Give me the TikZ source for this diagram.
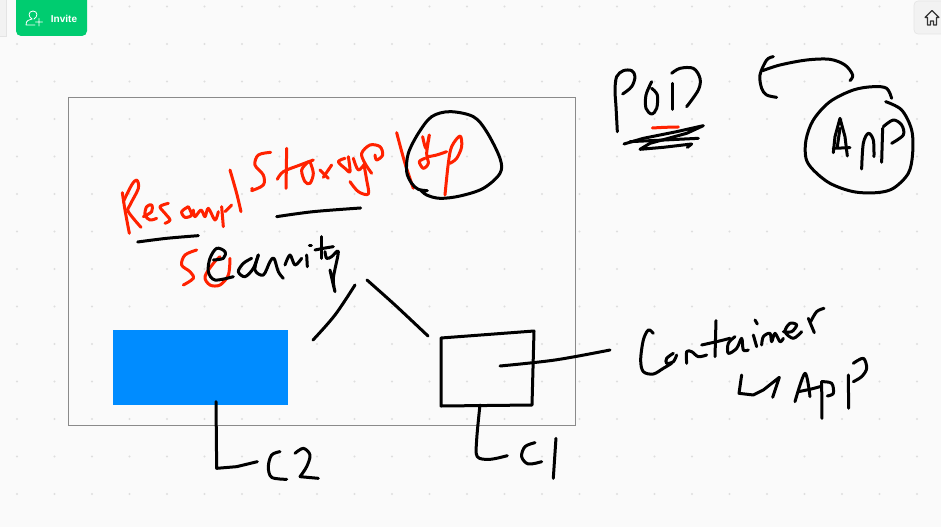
\documentclass[tikz,border=0pt]{standalone}
\usepackage{fontspec}
\setmainfont{Liberation Sans}
\definecolor{pagebg}{HTML}{FAFAFA}
\definecolor{griddot}{HTML}{DEDEDE}
\definecolor{framegray}{HTML}{8A8A8A}
\definecolor{boxblue}{HTML}{008CFF}
\definecolor{inkred}{HTML}{FF2200}
\definecolor{invitegreen}{HTML}{00CC70}
\definecolor{btngray}{HTML}{F2F2F2}
\definecolor{btnedge}{HTML}{E4E4E4}
\tikzset{
  ink/.style={line width=3pt,line cap=round,line join=round,black},
  redink/.style={ink,inkred},
  zoomed/.style={x=.3333pt,y=-.3333pt}
}
\newcommand{\ink}[2][ink]{\draw[#1] plot[smooth,tension=.55] coordinates {#2};}
\begin{document}
\begin{tikzpicture}[x=1pt,y=-1pt]
\useasboundingbox (0,0) rectangle (941,527);
\fill[pagebg] (0,0) rectangle (941,527);
% grid dots
\foreach \i in {0,...,24}{\foreach \j in {0,...,13}{
  \fill[griddot] ({17+37.5*\i},{6.5+37.5*\j}) circle (1.1);
}}
% toolbar
\draw[fill=btngray,draw=btnedge,line width=.6pt] (-6,-6) rectangle (6,36);
\fill[invitegreen,rounded corners=5pt] (16,-8) rectangle (87,36);
\node[text=white,font=\bfseries\fontsize{10}{11}\selectfont,inner sep=0pt] (invite) at (64,18.5) {Invite};
\draw[white,line width=.8pt,line cap=round] (26,25) .. controls (26,20) and (29,20) .. (32,19) .. controls (28,17) and (28,11) .. (33,11) .. controls (38,11) and (38,17) .. (34,19) (26,25) -- (35,25) (39,18.5) -- (39,26) (35.5,22) -- (42.5,22);
\draw[fill=btngray,draw=btnedge,line width=.6pt,rounded corners=4pt] (914,1) rectangle (950,34);
\draw[black!80,line width=1.1pt,line join=round] (925,17.5) -- (932,10.5) -- (939,17.5) -- (936.5,17.5) -- (936.5,25) -- (933.5,25) -- (933.5,21) -- (930.5,21) -- (930.5,25) -- (927.5,25) -- (927.5,17.5) -- cycle;
% frame and blue box
\draw[framegray,line width=1pt] (68,97) rectangle (575,425);
\fill[boxblue] (113,330) rectangle (288,405);

% Resour
\begin{scope}[shift={(115,170)},zoomed]
  \ink[redink]{(22,68)(30,120)(43,190)}
  \ink[redink]{(25,95)(50,45)(65,30)(70,55)(45,105)(40,125)(78,172)}
  \ink[redink]{(85,140)(110,125)(110,105)(95,110)(90,135)(105,150)(125,145)}
  \ink[redink]{(160,100)(135,110)(150,130)(165,150)(150,160)}
  \ink[redink]{(220,110)(200,125)(210,142)(230,135)(220,110)}
  \ink[redink]{(235,120)(240,140)(258,120)(270,140)(280,115)(300,150)(310,125)}
  \ink[redink]{(320,110)(325,170)}
  \ink[redink]{(330,125)(350,105)}
  \ink[redink]{(345,0)(365,70)(378,125)}
  \ink[redink]{(412,55)(410,58)}
\end{scope}
% S of Storage
\begin{scope}[shift={(100,110)},zoomed]
  \ink[redink]{(512,127)(475,135)(465,165)(490,195)(490,225)(455,242)}
  \ink{(113,396)(200,385)(295,377)}
  \ink{(530,320)(640,305)(782,294)}
\end{scope}
% torage, slash, IP and its circle
\begin{scope}[shift={(270,120)},zoomed]
  \ink[redink]{(50,85)(48,205)}
  \ink[redink]{(22,178)(40,155)(90,135)(130,120)}
  \ink[redink]{(115,125)(95,150)(105,185)(120,190)(130,160)(120,125)}
  \ink[redink]{(150,150)(175,175)}
  \ink[redink]{(160,172)(185,135)}
  \ink[redink]{(225,115)(205,125)(225,145)(240,155)(235,110)}
  \ink[redink]{(250,115)(265,150)(285,130)}
  \ink[redink]{(305,160)(285,130)(275,100)(300,75)(330,80)(338,105)(320,120)(315,105)}
  \ink[redink]{(240,185)(265,215)(295,222)(290,180)(283,140)}
  \ink[redink]{(380,38)(405,130)(430,205)}
  \ink[redink]{(458,50)(468,85)(478,45)(470,100)(475,130)(460,145)(448,125)(465,115)}
  \ink[redink]{(475,110)(500,105)(530,95)}
  \ink[redink]{(525,225)(535,130)(545,80)(570,48)(575,80)(560,115)(540,130)}
  \ink{(472,212)(445,208)(425,190)(410,155)(415,100)(445,40)(485,-10)(540,-25)(610,-10)(650,35)(690,115)(690,160)(640,205)(570,228)(510,235)(470,225)(450,208)}
\end{scope}
% Sec and security
\begin{scope}[shift={(170,235)},zoomed]
  \ink[redink]{(80,45)(45,60)(35,90)(60,110)(70,130)(40,150)}
  \ink[redink]{(180,70)(175,120)(150,150)(120,150)(105,125)(130,85)(150,65)}
  \ink{(130,75)(160,70)(165,50)(140,40)(120,70)(115,110)(135,135)(190,125)}
  \ink{(245,70)(220,85)(205,110)(225,125)(250,100)(265,60)}
  \ink{(265,60)(255,105)(280,120)(300,80)(312,70)(325,110)(340,130)}
  \ink{(345,90)(360,60)(375,90)(395,70)}
  \ink{(410,60)(412,95)}
  \ink{(418,30)(424,30)}
  \ink{(455,5)(455,70)}
  \ink{(435,45)(460,40)(490,35)}
  \ink{(465,50)(470,70)(485,65)(505,50)(490,130)(495,170)(480,105)}
\end{scope}

% connector strokes near box
\ink{(313,340)(335,315)(355,285)}
\ink{(367,280)(395,305)(428,336)}
\draw[ink] (441,338) -- (534,331) -- (532,405) -- (441,406) -- cycle;
\ink{(500,366)(555,360)(610,350)}

% POD and APP
\begin{scope}[shift={(600,40)},zoomed]
  \ink{(52,275)(48,200)(45,150)(50,110)(70,92)(95,92)(105,110)(95,140)(68,162)}
  \ink{(155,125)(138,165)(138,205)(155,222)(170,205)(172,165)(155,145)}
  \ink{(218,208)(218,130)}
  \ink{(215,100)(240,85)(280,85)(300,115)(295,150)(260,200)}
  \draw[ink] (72,312) -- (130,295) -- (230,275) -- (310,257) -- (260,280) -- (150,310) -- (120,328) -- (190,322) -- (275,312) -- (262,322);
  \draw[ink] (90,305) -- (295,295);
  \ink[redink]{(157,264)(195,262)(235,261)}
  \ink{(750,122)(758,105)(735,75)(690,58)(620,60)(540,75)(488,92)}
  \ink{(520,50)(500,60)(480,105)(485,145)(500,165)(530,172)}
  \ink{(875,175)(860,145)(820,140)(760,150)(690,185)(640,240)(618,300)(618,355)(640,390)(690,430)(760,455)(830,458)(880,445)(925,400)(938,340)(935,270)(905,210)(857,185)}
  \draw[ink] (700,338) -- (705,290) -- (720,235) -- (735,290) -- (742,348);
  \draw[ink] (712,320) -- (720,265);
  \draw[ink] (700,325) -- (750,323);
  \ink{(785,387)(790,310)(805,280)(820,300)(822,350)}
  \ink{(845,367)(848,265)}
  \ink{(850,260)(880,240)(905,255)(910,285)(875,310)}
\end{scope}

% Container
\begin{scope}[shift={(630,300)},zoomed]
  \ink{(70,100)(55,90)(40,120)(32,180)(40,215)(70,222)(100,205)(125,190)}
  \ink{(130,160)(110,175)(110,190)(130,185)(140,165)}
  \ink{(170,190)(170,155)(185,155)(205,170)(230,165)}
  \ink{(258,62)(255,170)}
  \ink{(215,135)(260,125)(300,115)}
  \ink{(315,110)(295,130)(295,160)(320,145)(335,115)(340,150)(355,150)}
  \ink{(375,60)(382,72)}
  \ink{(370,105)(380,140)}
  \ink{(395,135)(400,110)(420,100)(425,125)(435,100)(450,125)(460,115)}
  \ink{(460,95)(485,95)(500,75)(480,70)(465,95)(490,115)(515,95)}
  \ink{(535,55)(553,98)}
  \ink{(542,65)(560,35)(582,25)}
\end{scope}
% L APP below Container
\begin{scope}[shift={(620,290)},zoomed]
  \draw[ink] (365,255) -- (357,310) -- (400,315) -- (430,300) -- (478,262) -- (458,322);
  \ink{(525,335)(555,250)(570,320)}
  \ink{(535,305)(570,298)(600,290)}
  \ink{(606,385)(605,275)}
  \ink{(605,275)(635,280)(640,310)(622,318)}
  \ink{(686,355)(685,255)}
  \ink{(700,220)(730,205)(740,235)(725,260)(700,275)}
\end{scope}

% C2, C1 labels
\begin{scope}[shift={(200,390)},zoomed]
  \draw[ink] (48,35) -- (50,235) -- (110,230) -- (172,215);
  \ink{(240,185)(215,195)(205,230)(215,262)(260,268)}
  \ink{(285,190)(310,175)(330,195)(320,230)(300,260)}
  \draw[ink] (300,260) -- (355,265);
  \ink{(840,45)(830,150)(832,200)(870,208)(922,197)}
  \ink{(1005,158)(975,170)(965,200)(985,222)(1025,215)}
  \ink{(1068,145)(1060,265)}
\end{scope}
\end{tikzpicture}
\end{document}
